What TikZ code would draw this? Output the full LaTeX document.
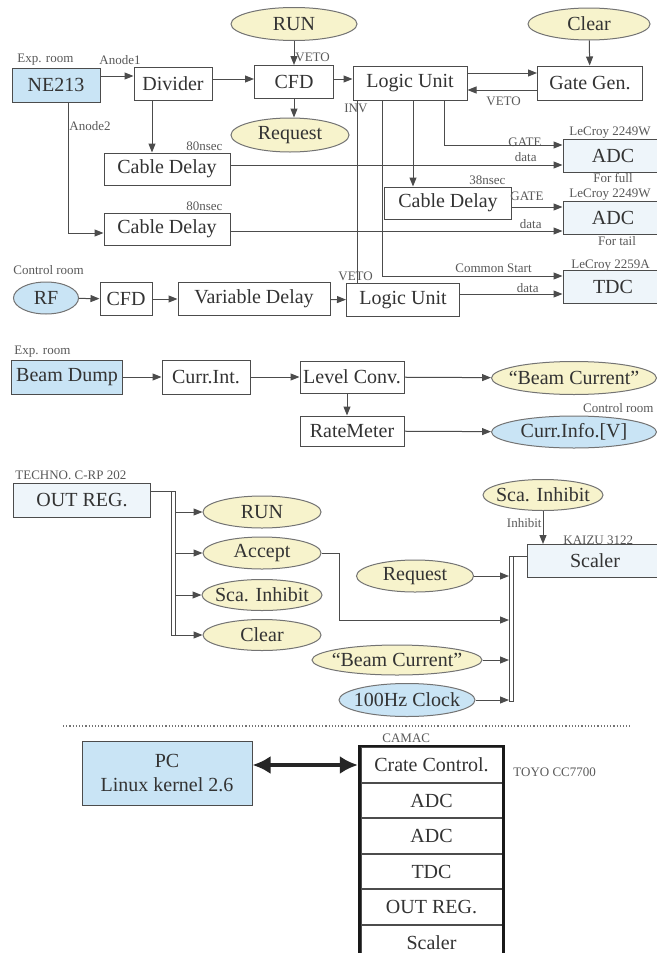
\documentclass[tikz,border=0pt]{standalone}
\usepackage{fontspec}
\setmainfont{Liberation Serif}
\usetikzlibrary{arrows.meta, positioning, fit, shapes.geometric}
\definecolor{skyc}{HTML}{C9E4F5}
\definecolor{palec}{HTML}{EEF5FA}
\definecolor{creamc}{HTML}{F7F3CC}
\definecolor{inkc}{HTML}{333333}
\tikzset{
  box/.style={draw=black!70, fill=white, line width=0.5pt, text=inkc,
              font=\fontsize{10}{12}\selectfont, inner sep=1pt, minimum height=16.5pt},
  skybox/.style={box, fill=skyc},
  palebox/.style={box, fill=palec},
  oval/.style={ellipse, draw=black!55, fill=creamc, line width=0.5pt, text=inkc,
               font=\fontsize{10}{12}\selectfont, inner xsep=-6pt, inner ysep=0pt, minimum height=16pt},
  skyoval/.style={oval, fill=skyc},
  slot/.style={box, minimum width=70.5pt, minimum height=17.25pt},
  lbl/.style={font=\fontsize{6.5}{7}\selectfont, text=black!65, inner sep=0.5pt},
  line/.style={draw=black!70, line width=0.5pt},
  arr/.style={line, -{Triangle[length=4.5pt, width=3.5pt]}},
  fat/.style={{Latex[length=9pt, width=9pt]}-{Latex[length=9pt, width=9pt]}, line width=2.4pt, draw=black!85},
}

\begin{document}
\begin{tikzpicture}[x=0.5pt, y=-0.5pt]
\useasboundingbox (0,0) rectangle (657,953);
\fill[white] (0,0) rectangle (657,953);
\clip (0,0) rectangle (657,953);

% signal chain of the detector
\node[skybox, minimum width=44pt, minimum height=17pt] (ne213) at (56,85) {NE213};
\node[box, minimum width=39pt] (div) at (173,84) {Divider};
\node[oval, minimum width=63pt, minimum height=16.5pt] (run) at (294,24) {RUN};
\node[box, minimum width=39.5pt] (cfd) at (294,82) {CFD};
\node[oval, minimum width=59pt, minimum height=17pt] (req) at (290,135) {Request};
\node[box, minimum width=57pt, minimum height=17pt] (lu) at (410,83) {Logic Unit};
\node[oval, minimum width=61pt] (clr) at (589,24) {Clear};
\node[box, minimum width=52.5pt, minimum height=17pt] (gg) at (590,83) {Gate Gen.};
\node[box, minimum width=63pt, minimum height=16pt] (cd1) at (167,169) {Cable Delay};
\node[box, minimum width=63.5pt, minimum height=16pt] (cd3) at (448,203) {Cable Delay};
\node[box, minimum width=63pt, minimum height=16pt] (cd2) at (167,229) {Cable Delay};
\node[palebox, minimum width=50pt] (adc1) at (613,156) {ADC};
\node[palebox, minimum width=50pt] (adc2) at (613,218) {ADC};
\node[palebox, minimum width=50pt] (tdc) at (613,287) {TDC};
\node[skyoval, minimum width=32.5pt] (rf) at (46,298) {RF};
\node[box, minimum width=26pt] (cfd2) at (126,299) {CFD};
\node[box, minimum width=76pt] (vd) at (254,299) {Variable Delay};
\node[box, minimum width=56.5pt] (lu2) at (403,300) {Logic Unit};

\node[lbl, anchor=west] at (16,60) {Exp. room};
\node[lbl, anchor=west] at (98,60) {Anode1};
\node[lbl, anchor=west] at (294,57) {VETO};
\node[lbl, anchor=west] at (485,101) {VETO};
\node[lbl, anchor=west] at (343,108) {INV};
\node[lbl, anchor=west] at (68,126) {Anode2};
\node[lbl, anchor=west] at (185,146) {80nsec};
\node[lbl, anchor=west] at (568,133) {LeCroy 2249W};
\node[lbl, anchor=east] at (543,142) {GATE};
\node[lbl, anchor=east] at (538,157) {data};
\node[lbl] at (613,178) {For full};
\node[lbl, anchor=west] at (468,180) {38nsec};
\node[lbl, anchor=east] at (545,196) {GATE};
\node[lbl, anchor=west] at (568,195) {LeCroy 2249W};
\node[lbl, anchor=west] at (185,206) {80nsec};
\node[lbl, anchor=east] at (543,224) {data};
\node[lbl] at (617,241) {For tail};
\node[lbl, anchor=west] at (12,270) {Control room};
\node[lbl, anchor=east] at (533,268) {Common Start};
\node[lbl, anchor=west] at (570,266) {LeCroy 2259A};
\node[lbl, anchor=west] at (337,276) {VETO};
\node[lbl, anchor=east] at (540,288) {data};

\draw[arr] ([yshift=4.5pt]ne213.east) -- ([yshift=4.5pt]ne213.east -| div.west);
\draw[arr] ([yshift=2.5pt]div.east) -- ([yshift=2.5pt]div.east -| cfd.west);
\draw[arr] ([yshift=1.5pt]cfd.east) -- ([yshift=1.5pt]cfd.east -| lu.west);
\draw[arr] (run) -- (cfd);
\draw[arr] (cfd.south) -- (cfd.south |- req.north);
\draw[arr] ([yshift=5pt]lu.east) -- ([yshift=5pt]lu.east -| gg.west);
\draw[arr] ([yshift=-3.5pt]gg.west) -- ([yshift=-3.5pt]gg.west -| lu.east);
\draw[arr] (clr) -- (gg);
\draw[arr] ([xshift=-10.5pt]div.south) -- ([xshift=-10.5pt]div.south |- cd1.north);
\draw[arr] ([xshift=6pt]ne213.south) |- ([yshift=-2pt]cd2.west);
\draw[arr] ([yshift=2pt]cd1.east) -- ([yshift=2pt]cd1.east -| adc1.west);
\draw[arr] ([yshift=-1pt]cd2.east) -- ([yshift=-1pt]cd2.east -| adc2.west);
\draw[line] ([xshift=-26.5pt]lu.south) -- ([xshift=-26.5pt]lu.south |- lu2.north);
\draw[arr] ([xshift=-14pt]lu.south) |- ([yshift=5.5pt]tdc.west);
\draw[arr] ([xshift=1.5pt]lu.south) -- ([xshift=1.5pt]lu.south |- cd3.north);
\draw[arr] ([xshift=17pt]lu.south) |- ([yshift=5.5pt]adc1.west);
\draw[arr] ([yshift=5.5pt]adc2.west -| cd3.east) -- ([yshift=5.5pt]adc2.west);
\draw[arr] ([yshift=-3.5pt]tdc.west -| lu2.east) -- ([yshift=-3.5pt]tdc.west);
\draw[arr] (rf) -- (cfd2);
\draw[arr] (cfd2) -- (vd);
\draw[arr] (vd) -- (lu2);

% beam current
\node[skybox, minimum width=55.5pt, minimum height=17pt] (bd) at (67,377) {Beam Dump};
\node[box, minimum width=44pt, minimum height=17pt] (ci) at (206,377) {Curr.Int.};
\node[box, minimum width=52pt, minimum height=16pt] (lc) at (352,377) {Level Conv.};
\node[oval, minimum width=82.5pt, minimum height=16.5pt] (bc) at (574,378) {“Beam Current”};
\node[box, minimum width=52pt, minimum height=15pt] (rm) at (352,431) {RateMeter};
\node[skyoval, minimum width=82.5pt] (info) at (574,432) {Curr.Info.[V]};
\node[lbl, anchor=west] at (13,352) {Exp. room};
\node[lbl, anchor=east] at (655,408) {Control room};

\draw[arr] (bd) -- (ci);
\draw[arr] (ci) -- (lc);
\draw[arr] (lc) -- (bc);
\draw[arr] ([xshift=-2.5pt]lc.south) -- ([xshift=-2.5pt]lc.south |- rm.north);
\draw[arr] (rm) -- (info);

% output register and scaler
\node[palebox, minimum width=68.5pt, minimum height=17pt] (outreg) at (82,500) {OUT REG.};
\node[oval, minimum width=59pt] (orun) at (262,512) {RUN};
\node[oval, minimum width=59pt] (oacc) at (262,553) {Accept};
\node[oval, minimum width=60pt, minimum height=15.5pt] (osca) at (262,595) {Sca. Inhibit};
\node[oval, minimum width=59pt, minimum height=15.5pt] (oclr) at (262,635) {Clear};
\node[oval, minimum width=60pt, minimum height=15.5pt] (sca2) at (543,495) {Sca. Inhibit};
\node[palebox, minimum width=68pt] (scaler) at (595,561) {Scaler};
\node[oval, minimum width=58.5pt] (req2) at (415,576) {Request};
\node[oval, minimum width=85pt, minimum height=15pt] (bc2) at (397,660) {“Beam Current”};
\node[skyoval, minimum width=68pt, minimum height=16.5pt] (clk) at (407,700) {100Hz Clock};
\node[lbl, anchor=west] at (14,475) {TECHNO. C-RP 202};
\node[lbl, anchor=west] at (562,540) {KAIZU 3122};
\node[lbl, anchor=east] at (543,523) {Inhibit};

\coordinate (b1t) at (171,491);
\coordinate (b1b) at (175,635);
\coordinate (b2t) at (509,556);
\coordinate (b2b) at (513,701);
\coordinate (accin) at (509,620);
\draw[line] ([yshift=4.5pt]outreg.east) -- (b1t);
\draw[line] (b1t) rectangle (b1b);
\foreach \n in {orun,oacc,osca,oclr} {
  \draw[arr] (b1b |- \n.west) -- (\n.west);
}
\draw[line] (b2t) rectangle (b2b);
\draw[line] (b2t -| b2b) -- (b2t -| scaler.west);
\draw[arr] (sca2.south) -- (sca2.south |- scaler.north);
\draw[arr] (req2.east) -- (b2t |- req2.east);
\draw[arr] (oacc.east) -- ++(18,0) |- (accin);
\draw[arr] (bc2.east) -- (b2t |- bc2.east);
\draw[arr] (clk.east) -- (b2t |- clk.east);

\draw[black!55, densely dotted, line width=0.6pt] (63,726) -- (630,726);

% PC and CAMAC crate
\node[skybox, minimum width=85pt, minimum height=32pt, align=center] (pc) at (167,773) {PC\\Linux kernel 2.6};
\node[slot] (cc) at (431.5,765) {Crate Control.};
\node[slot, below=0pt of cc] (ca1) {ADC};
\node[slot, below=0pt of ca1] (ca2) {ADC};
\node[slot, below=0pt of ca2] (ct) {TDC};
\node[slot, below=0pt of ct] (co) {OUT REG.};
\node[slot, below=0pt of co] (cs) {Scaler};
\node[draw=black!90, line width=1.4pt, inner sep=0.6pt, fit=(cc)(cs)] (crate) {};
\node[lbl, anchor=west] at (381,738) {CAMAC};
\node[lbl, anchor=west] at (512,772) {TOYO CC7700};
\draw[fat] (cc.west -| pc.east) -- (cc.west -| crate.west);
\end{tikzpicture}
\end{document}
